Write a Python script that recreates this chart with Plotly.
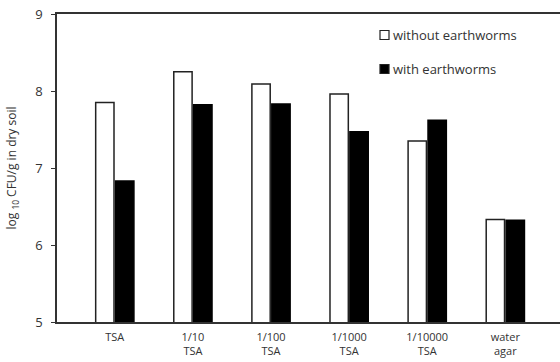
import plotly.graph_objects as go

categories = ["TSA", "1/10<br>TSA", "1/100<br>TSA", "1/1000<br>TSA", "1/10000<br>TSA", "water<br>agar"]
without_ew = [7.85, 8.25, 8.09, 7.96, 7.35, 6.33]
with_ew = [6.83, 7.82, 7.83, 7.47, 7.62, 6.32]
y_ticks = [5, 6, 7, 8, 9]
series_names = ["without earthworms", "with earthworms"]

fig = go.Figure()
fig.add_trace(go.Bar(
    x=categories, y=without_ew, name=series_names[0],
    marker=dict(color="white", line=dict(color="#222222", width=1.5)),
))
fig.add_trace(go.Bar(
    x=categories, y=with_ew, name=series_names[1],
    marker=dict(color="black", line=dict(color="black", width=1.5)),
))

# manual legend (small squares like the original)
W, H = 560, 362
leg_x0 = 380
leg_rows = [35, 69]
fills = ["white", "black"]
for name, yc, fc in zip(series_names, leg_rows, fills):
    fig.add_shape(type="rect", xref="paper", yref="paper",
                  x0=(leg_x0 - 57) / (W - 57), x1=(leg_x0 + 9 - 57) / (W - 57),
                  y0=(322 - (yc + 4.5)) / (322 - 14), y1=(322 - (yc - 4.5)) / (322 - 14),
                  fillcolor=fc, line=dict(color="#222222", width=1.2))
    fig.add_annotation(xref="paper", yref="paper",
                       x=(leg_x0 + 11 - 57) / (W - 57), y=(322 - yc) / (322 - 14),
                       xanchor="left", yanchor="middle", showarrow=False,
                       text=name, font=dict(size=13, color="#333333"))

fig.update_layout(
    width=W, height=H,
    margin=dict(l=57, r=0, t=14, b=40),
    paper_bgcolor="white", plot_bgcolor="white",
    font=dict(family="Open Sans, Lato, sans-serif", color="#333333", size=11),
    barmode="group", bargap=0.49, bargroupgap=0.08,
    showlegend=False,
    xaxis=dict(
        type="category", range=[-0.74, 5.7], automargin=False,
        showline=True, linecolor="#333333", linewidth=1.5, mirror=True,
        ticks="", showgrid=False, ticklabelstandoff=4,
        tickfont=dict(size=11, color="#333333"),
    ),
    yaxis=dict(
        range=[5, 9], tickvals=y_ticks, automargin=False,
        showline=True, linecolor="#333333", linewidth=1.5,
        ticks="outside", ticklen=4, tickcolor="#333333", ticklabelstandoff=6,
        showgrid=False, zeroline=False,
        tickfont=dict(size=13, color="#333333"),
        title=dict(text="log <sub>10</sub> CFU/g in dry soil",
                   font=dict(size=12, color="#333333"), standoff=16),
    ),
)

fig.write_html("out.html", config={"displayModeBar": False},
               post_script="document.body.style.margin='0';document.body.style.overflow='hidden';")
